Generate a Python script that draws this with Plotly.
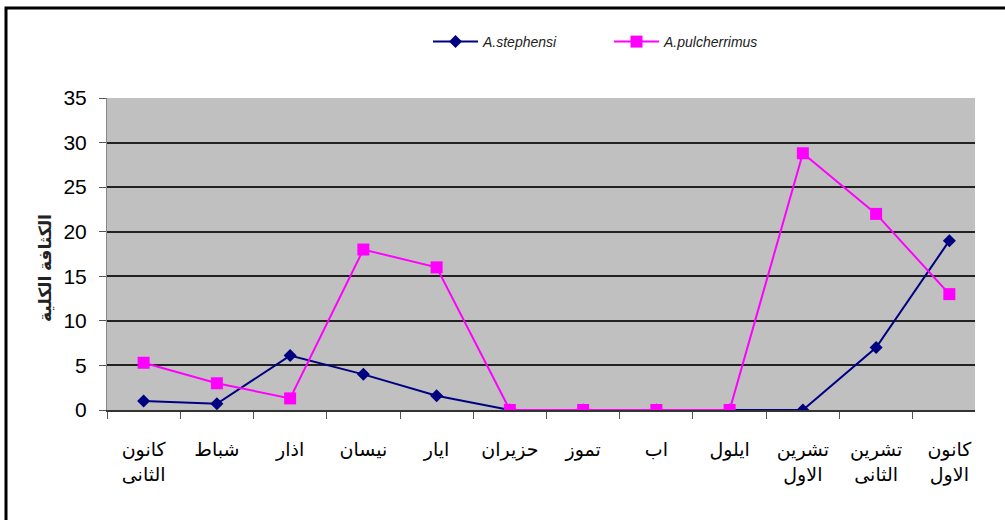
import plotly.graph_objects as go

months = ["كانون<br>الثانى", "شباط", "اذار", "نيسان", "ايار", "حزيران", "تموز", "اب", "ايلول",
          "تشرين<br>الاول", "تشرين<br>الثانى", "كانون<br>الاول"]
stephensi = [1.0, 0.7, 6.1, 4.0, 1.6, 0, 0, 0, 0, 0, 7.0, 19.0]
pulcherrimus = [5.3, 3.0, 1.3, 18.0, 16.0, 0, 0, 0, 0, 28.8, 22.0, 13.0]
y_ticks = [0, 5, 10, 15, 20, 25, 30, 35]
y_title = "الكثافة الكلية"

W, H = 1005, 520
L, R, T, B = 107, 30, 98, 110
PW, PH = W - L - R, H - T - B

fig = go.Figure()
fig.add_trace(go.Scatter(
    x=months, y=stephensi, name="A.stephensi", mode="lines+markers",
    line=dict(color="#000080", width=2),
    marker=dict(symbol="diamond", size=10, color="#000080")))
fig.add_trace(go.Scatter(
    x=months, y=pulcherrimus, name="A.pulcherrimus", mode="lines+markers",
    line=dict(color="#FF00FF", width=2),
    marker=dict(symbol="square", size=12, color="#FF00FF")))

fig.update_layout(
    width=W, height=H,
    margin=dict(l=L, r=R, t=T, b=B),
    paper_bgcolor="white", plot_bgcolor="#C0C0C0",
    font=dict(family="Arial, Liberation Sans, DejaVu Sans", color="black"),
    showlegend=True,
    legend=dict(orientation="h", x=(428 - L) / PW, xanchor="left",
                y=1 + (T - 42) / PH, yanchor="middle",
                font=dict(size=14, style="italic", color="#222"),
                bgcolor="rgba(0,0,0,0)", entrywidth=121, itemwidth=45),
    xaxis=dict(type="category", tickson="boundaries", ticks="outside", ticklen=7,
               tickcolor="#555", showgrid=False, showline=True, linecolor="#333", linewidth=2,
               tickfont=dict(size=19, family="Arial, DejaVu Sans"), range=[-0.5, 11.35],
               ticklabelstandoff=21, fixedrange=True),
    yaxis=dict(range=[0, 35], tickvals=y_ticks, ticks="outside", ticklen=7, tickcolor="#555",
               showgrid=True, gridcolor="#222", gridwidth=1.5, zeroline=False,
               showline=True, linecolor="#888", linewidth=1,
               tickfont=dict(size=21), ticklabelstandoff=8),
    annotations=[dict(text="<b>" + y_title + "</b>", textangle=-90, xref="paper", yref="paper",
                      x=(45 - L) / PW, y=(H - B - 268) / PH, xanchor="center", yanchor="middle",
                      showarrow=False, font=dict(size=17, family="Arial, DejaVu Sans", color="#222"))],
    shapes=[dict(type="rect", xref="paper", yref="paper",
                 x0=(6 - L) / PW, x1=(1040 - L) / PW,
                 y0=(H - B - 560) / PH, y1=(H - B - 8) / PH,
                 line=dict(color="black", width=3), layer="above")],
)

fig.write_html("out.html")
